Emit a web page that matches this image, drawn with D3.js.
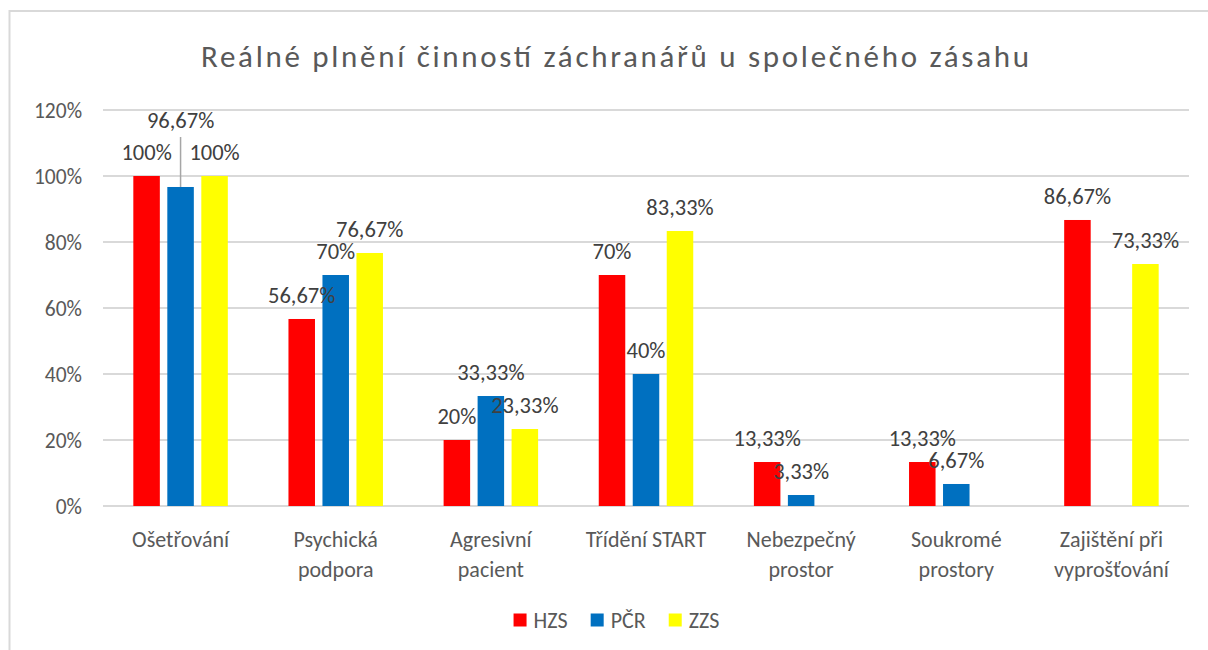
<!DOCTYPE html>
<html>
<head>
<meta charset="utf-8">
<script src="https://cdn.jsdelivr.net/npm/d3@7"></script>
<style>
  body { margin: 0; background: #fff; }
  svg { display: block; font-family: Carlito, Lato, "Open Sans", sans-serif; }
</style>
</head>
<body>
<script>
// data (percent)
var categories = ["Ošetřování", "Psychická podpora", "Agresivní pacient", "Třídění START",
                  "Nebezpečný prostor", "Soukromé prostory", "Zajištění při vyprošťování"];
var seriesNames = ["HZS", "PČR", "ZZS"];
var hzs = [100, 56.67, 20, 70, 13.33, 13.33, 86.67];
var pcr = [96.67, 70, 33.33, 40, 3.33, 6.67, null];
var zzs = [100, 76.67, 23.33, 83.33, null, null, 73.33];
var colors = ["#ff0000", "#0070c0", "#ffff00"];
var yTicks = [0, 20, 40, 60, 80, 100, 120];

var W = 1208, H = 650;
var margin = {left: 103, right: 19, top: 110, bottom: 144};

var svg = d3.select("body").append("svg").attr("width", W).attr("height", H);

// chart frame (runs off the picture at right and bottom)
svg.append("rect")
    .attr("x", 9.5).attr("y", 11)
    .attr("width", 1400).attr("height", 1000)
    .attr("fill", "none")
    .attr("stroke", "#d9d9d9")
    .attr("stroke-width", 2);

svg.append("text")
    .attr("x", 615).attr("y", 67)
    .attr("text-anchor", "middle")
    .attr("font-size", 31)
    .attr("textLength", 828)
    .attr("lengthAdjust", "spacing")
    .attr("fill", "#595959")
    .text("Reálné plnění činností záchranářů u společného zásahu");

var x0 = d3.scaleBand().domain(categories).range([margin.left, W - margin.right]);
var x1 = d3.scaleBand().domain(seriesNames).range([0, 94.5]).paddingInner(0.22);
var y = d3.scaleLinear().domain([0, 120]).range([H - margin.bottom, margin.top]);

// gridlines
svg.append("g").selectAll("line")
    .data(yTicks).enter().append("line")
    .attr("x1", margin.left).attr("x2", W - margin.right)
    .attr("y1", function(d) { return y(d); })
    .attr("y2", function(d) { return y(d); })
    .attr("stroke", "#d9d9d9")
    .attr("stroke-width", 2);

// y axis labels
svg.append("g").selectAll("text")
    .data(yTicks).enter().append("text")
    .attr("x", 82)
    .attr("y", function(d) { return y(d); })
    .attr("dy", "0.36em")
    .attr("text-anchor", "end")
    .attr("font-size", 21.5)
    .attr("fill", "#595959")
    .text(function(d) { return d + "%"; });

var series = [hzs, pcr, zzs];
var rows = [];
series.forEach(function(vals, s) {
    vals.forEach(function(v, i) {
        if (v !== null) rows.push({cat: categories[i], ser: seriesNames[s], s: s, v: v});
    });
});

function barX(d) {
    return x0(d.cat) + (x0.bandwidth() - 94.5) / 2 + x1(d.ser);
}

svg.append("g").selectAll("rect")
    .data(rows).enter().append("rect")
    .attr("x", barX)
    .attr("y", function(d) { return y(d.v); })
    .attr("width", x1.bandwidth())
    .attr("height", function(d) { return y(0) - y(d.v); })
    .attr("fill", function(d) { return colors[d.s]; });

// data labels, czech decimal comma
var cz = d3.formatLocale({decimal: ",", thousands: " ", grouping: [3], currency: ["", " Kč"]});
var fmt = cz.format(".2~f");
var lift = {"PČR|Ošetřování": 43}; // label dragged up in the original, with leader line

svg.append("g").selectAll("line")
    .data(rows.filter(function(d) { return lift[d.ser + "|" + d.cat]; }))
    .enter().append("line")
    .attr("x1", function(d) { return barX(d) + x1.bandwidth() / 2; })
    .attr("x2", function(d) { return barX(d) + x1.bandwidth() / 2; })
    .attr("y1", function(d) { return y(d.v) - 24 - lift[d.ser + "|" + d.cat] + 17; })
    .attr("y2", function(d) { return y(d.v); })
    .attr("stroke", "#a6a6a6")
    .attr("stroke-width", 1.5);

svg.append("g").selectAll("text")
    .data(rows).enter().append("text")
    .attr("x", function(d) { return barX(d) + x1.bandwidth() / 2; })
    .attr("y", function(d) { return y(d.v) - 24 - (lift[d.ser + "|" + d.cat] || 0); })
    .attr("dy", "0.36em")
    .attr("text-anchor", "middle")
    .attr("font-size", 22.5)
    .attr("fill", "#404040")
    .text(function(d) { return fmt(d.v) + "%"; });

// category labels, wrapped to the band width
var catG = svg.append("g");
categories.forEach(function(c) {
    var cx = x0(c) + x0.bandwidth() / 2;
    var t = catG.append("text")
        .attr("x", cx)
        .attr("y", 547)
        .attr("text-anchor", "middle")
        .attr("font-size", 22)
        .attr("fill", "#595959");
    var line = [];
    var tspan = t.append("tspan").attr("x", cx).attr("dy", 0);
    c.split(" ").forEach(function(w) {
        line.push(w);
        tspan.text(line.join(" "));
        if (tspan.node().getComputedTextLength() > x0.bandwidth() - 12 && line.length > 1) {
            line.pop();
            tspan.text(line.join(" "));
            line = [w];
            tspan = t.append("tspan").attr("x", cx).attr("dy", 30).text(w);
        }
    });
});

// legend
var leg = svg.append("g");
var lx = 0;
seriesNames.forEach(function(n, i) {
    var g = leg.append("g").attr("transform", "translate(" + lx + ",0)");
    g.append("rect").attr("x", 0).attr("y", -6.5).attr("width", 13).attr("height", 13).attr("fill", colors[i]);
    var t = g.append("text").attr("x", 20).attr("y", 0).attr("dy", "0.36em")
        .attr("font-size", 22).attr("fill", "#595959").text(n);
    lx += 20 + t.node().getComputedTextLength() + 23;
});
var legW = lx - 23;
leg.attr("transform", "translate(" + (616.5 - legW / 2) + ",620)");
</script>
</body>
</html>
